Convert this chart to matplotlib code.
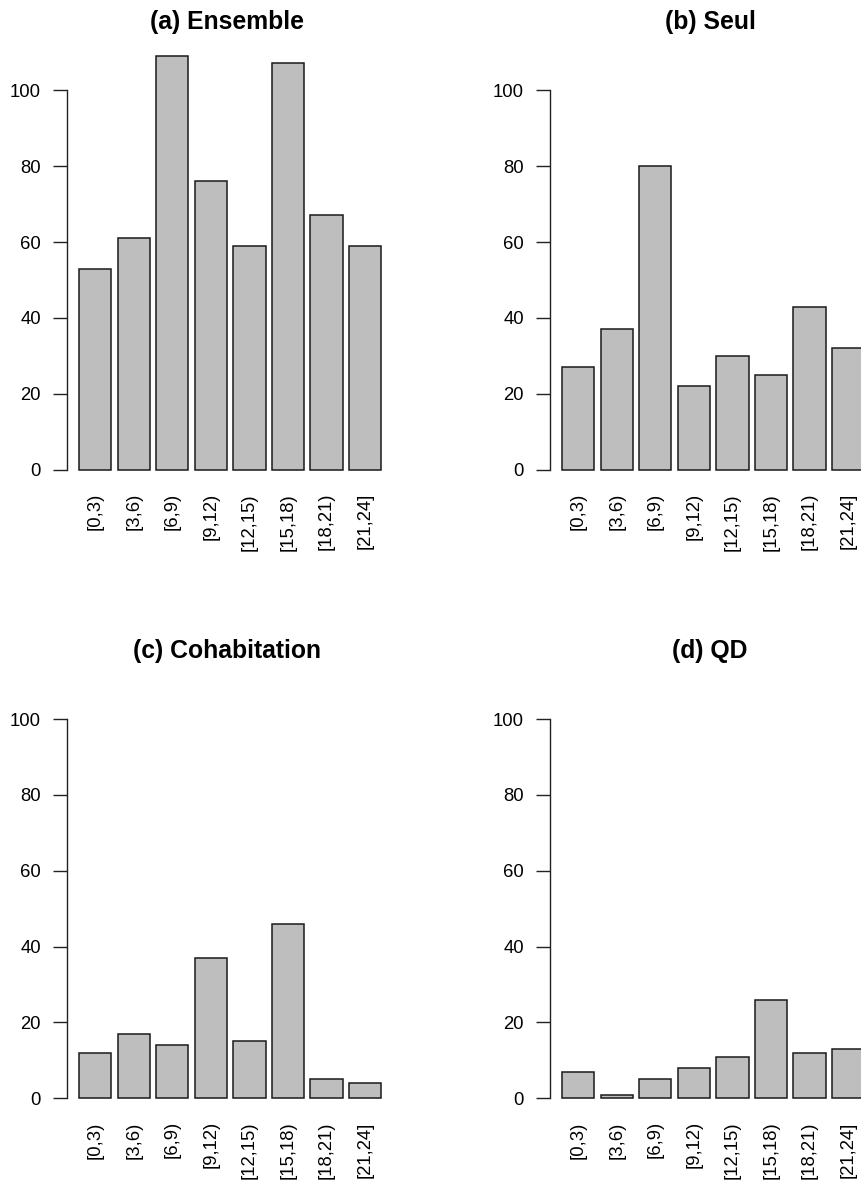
import numpy as np
import matplotlib
matplotlib.use("Agg")
import matplotlib.pyplot as plt

plt.rcParams['font.family'] = ['Liberation Sans', 'DejaVu Sans']

categories = ["[0,3)", "[3,6)", "[6,9)", "[9,12)", "[12,15)", "[15,18)", "[18,21)", "[21,24]"]
ensemble = [53, 61, 109, 76, 59, 107, 67, 59]
seul = [27, 37, 80, 22, 30, 25, 43, 32]
cohabitation = [12, 17, 14, 37, 15, 46, 5, 4]
qd = [7, 1, 5, 8, 11, 26, 12, 13]
titles = ["(a) Ensemble", "(b) Seul", "(c) Cohabitation", "(d) QD"]
yticks = [0, 20, 40, 60, 80, 100]

W, H = 861, 1185
fig = plt.figure(figsize=(W / 100, H / 100), dpi=100)

# pixel layout (left, top, right, bottom) of plot regions
ax_w = 326.0
rows = [(35.3, 486.7), (664.4, 1115.0)]
cols = [67.2, 550.2]
series = [ensemble, seul, cohabitation, qd]

n = len(categories)
x = np.arange(n) * 1.2 + 0.7
xlim = (0.2 - 0.376, 9.6 + 0.376)
ylim = (-4.4, 114.4)

for i, (vals, title) in enumerate(zip(series, titles)):
    r, c = divmod(i, 2)
    top, bot = rows[r]
    left = cols[c]
    ax = fig.add_axes([left / W, (H - bot) / H, ax_w / W, (bot - top) / H])
    ax.bar(x, vals, width=1.0, color="#bebebe", edgecolor="#1a1a1a", linewidth=1.1)
    ax.set_xlim(*xlim)
    ax.set_ylim(*ylim)
    for s in ["top", "right", "bottom"]:
        ax.spines[s].set_visible(False)
    ax.spines["left"].set_bounds(0, 100)
    ax.spines["left"].set_linewidth(1.0)
    ax.spines["left"].set_color("#222222")
    ax.set_yticks(yticks)
    ax.set_yticklabels([str(v) for v in yticks])
    ax.tick_params(axis="y", length=10, width=1.0, color="#222222", pad=9, labelsize=13.3)
    ax.set_xticks(x)
    ax.set_xticklabels(categories, rotation=90)
    ax.tick_params(axis="x", length=0, pad=4.5, labelsize=13.3)
    ax.spines["left"].set_position(("outward", 0))
    axh = bot - top
    ax.text(0.49, 1 + 13.3 / axh, title, transform=ax.transAxes, ha="center", va="center",
            fontsize=17.8, fontweight="bold")

fig.savefig("out.png", dpi=100)
